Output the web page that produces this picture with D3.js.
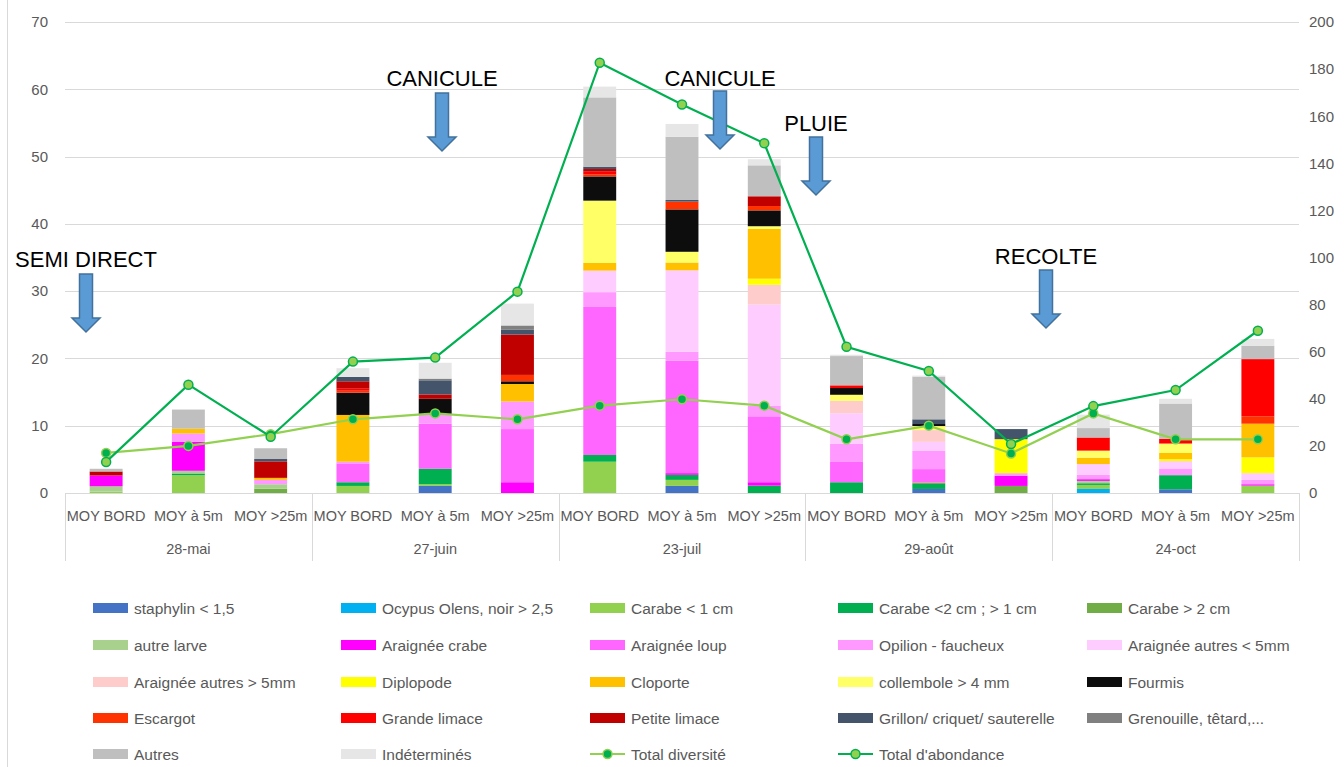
<!DOCTYPE html>
<html>
<head>
<meta charset="utf-8">
<script src="https://cdn.jsdelivr.net/npm/d3@7"></script>
<style>
  html, body { margin: 0; padding: 0; background: #fff; }
  svg { display: block; font-family: "Liberation Sans", Arial, sans-serif; }
</style>
</head>
<body>
<svg id="chart" width="1344" height="767"></svg>
<script>
// Sampling dates and trap positions
const dates = ["28-mai", "27-juin", "23-juil", "29-août", "24-oct"];
const positions = ["MOY BORD", "MOY à 5m", "MOY >25m"];
const categories = dates.flatMap(d => positions.map(p => d + "|" + p));

// Mean counts per taxon, one value per category (left axis)
const staphylin     = [0, 0, 0, 0, 1.05, 0, 0, 1.05, 0, 0, 0.6, 0, 0, 0.55, 0];
const ocypus        = [0, 0, 0, 0, 0, 0, 0, 0, 0, 0, 0, 0, 0.6, 0, 0];
const carabeS       = [0.2, 2.65, 0, 1.05, 0.25, 0, 4.65, 0.9, 0, 0, 0, 0, 0.6, 0, 1.1];
const carabeM       = [0, 0.25, 0, 0.55, 2.3, 0, 1.0, 0.75, 1.1, 1.6, 0.75, 0, 0.25, 2.1, 0];
const carabeL       = [0, 0, 0.65, 0, 0, 0, 0, 0, 0, 0, 0.2, 1.05, 0, 0, 0];
const autreLarve    = [0.8, 0.4, 0.65, 0, 0, 0, 0, 0, 0, 0, 0, 0, 0.35, 0, 0];
const araigneeCrabe = [1.6, 4.3, 0, 0, 0, 1.6, 0, 0.25, 0.5, 0, 0, 1.5, 0.25, 0, 0.2];
const araigneeLoup  = [0, 0, 0, 2.8, 6.7, 7.9, 22.0, 16.7, 9.8, 3.1, 2.0, 0, 0, 0, 0];
const opilion       = [0, 1.25, 0.65, 0.25, 1.4, 4.1, 2.2, 1.35, 1.6, 2.6, 2.7, 0.4, 0.65, 1.0, 0.65];
const araigneePetit = [0, 0, 0, 0, 0, 0, 3.2, 12.1, 15.0, 4.55, 1.35, 0, 1.6, 1.1, 1.0];
const araigneeGrand = [0, 0, 0, 0, 0, 0, 0, 0, 2.95, 1.85, 1.75, 0, 0, 0, 0];
const diplopode     = [0, 0, 0, 0, 0, 0, 0, 0, 0.9, 0, 0, 5.05, 0, 0.3, 2.35];
const cloporte      = [0, 0.7, 0.3, 6.95, 0, 2.6, 1.15, 1.15, 7.4, 0, 0, 0, 0.95, 0.9, 5.0];
const collembole    = [0, 0, 0, 0, 0, 0, 9.25, 1.6, 0.4, 0.9, 0.6, 0, 1.05, 1.4, 0];
const fourmis       = [0, 0, 0, 3.3, 2.3, 0.4, 3.6, 6.3, 2.35, 1.0, 0.3, 0, 0, 0, 0];
const escargot      = [0, 0, 0, 0.3, 0, 0.95, 0.3, 1.15, 0.65, 0, 0, 0, 0, 0, 1.1];
const grandeLimace  = [0, 0, 0, 0.3, 0, 0, 0.4, 0, 0, 0.4, 0, 0, 1.95, 0.7, 8.5];
const petiteLimace  = [0.6, 0, 2.45, 1.1, 0.65, 6.0, 0.4, 0, 1.45, 0, 0, 0, 0, 0, 0];
const grillon       = [0, 0, 0.35, 0.65, 2.1, 0.7, 0.35, 0.25, 0, 0, 0.7, 1.5, 0, 0, 0];
const grenouille    = [0, 0, 0, 0, 0.25, 0.65, 0, 0, 0, 0, 0, 0, 0, 0, 0];
const autres        = [0.4, 2.85, 1.6, 0, 0, 0, 10.3, 9.4, 4.6, 4.35, 6.35, 0, 1.4, 5.25, 2.0];
const indetermines  = [0, 0, 0, 1.3, 2.35, 3.25, 1.6, 1.9, 0.9, 0.2, 0.15, 0, 2.0, 0.7, 1.0];

// Totals (right axis)
const totalDiversite = [17, 20, 25, 31.3, 33.8, 31.3, 37.1, 39.8, 37.1, 22.8, 28.6, 16.8, 33.8, 22.8, 22.8];
const totalAbondance = [13.2, 46, 23.9, 55.8, 57.5, 85.5, 182.7, 165, 148.5, 62.1, 51.8, 20.8, 36.9, 43.7, 68.9];

const leftTicks = [0, 10, 20, 30, 40, 50, 60, 70];
const rightTicks = [0, 20, 40, 60, 80, 100, 120, 140, 160, 180, 200];

const series = [
  { name: "staphylin < 1,5", color: "#4472C4", values: staphylin },
  { name: "Ocypus Olens, noir > 2,5", color: "#00B0F0", values: ocypus },
  { name: "Carabe < 1 cm", color: "#92D050", values: carabeS },
  { name: "Carabe <2 cm ; > 1 cm", color: "#00B050", values: carabeM },
  { name: "Carabe > 2 cm", color: "#70AD47", values: carabeL },
  { name: "autre larve", color: "#A9D18E", values: autreLarve },
  { name: "Araignée crabe", color: "#FF00FF", values: araigneeCrabe },
  { name: "Araignée loup", color: "#FF66FF", values: araigneeLoup },
  { name: "Opilion - faucheux", color: "#FF99FF", values: opilion },
  { name: "Araignée autres < 5mm", color: "#FFCCFF", values: araigneePetit },
  { name: "Araignée autres > 5mm", color: "#FFCCCC", values: araigneeGrand },
  { name: "Diplopode", color: "#FFFF00", values: diplopode },
  { name: "Cloporte", color: "#FFC000", values: cloporte },
  { name: "collembole > 4 mm", color: "#FFFF66", values: collembole },
  { name: "Fourmis", color: "#0D0D0D", values: fourmis },
  { name: "Escargot", color: "#FF3300", values: escargot },
  { name: "Grande limace", color: "#FF0000", values: grandeLimace },
  { name: "Petite limace", color: "#C00000", values: petiteLimace },
  { name: "Grillon/ criquet/ sauterelle", color: "#44546A", values: grillon },
  { name: "Grenouille, têtard,...", color: "#808080", values: grenouille },
  { name: "Autres", color: "#BFBFBF", values: autres },
  { name: "Indéterminés", color: "#E6E6E6", values: indetermines }
];

const lines = [
  { name: "Total diversité", stroke: "#92D050", fill: "#00B050", values: totalDiversite },
  { name: "Total d'abondance", stroke: "#00B050", fill: "#92D050", values: totalAbondance }
];

const events = [
  { label: "SEMI DIRECT", x: 86, textY: 267, top: 274 },
  { label: "CANICULE", x: 442, textY: 86, top: 93 },
  { label: "CANICULE", x: 720, textY: 86, top: 91 },
  { label: "PLUIE", x: 816, textY: 131, top: 137 },
  { label: "RECOLTE", x: 1046, textY: 264, top: 270 }
];

const svg = d3.select("#chart");
const plot = { left: 65, right: 1299, top: 22, bottom: 493 };

const x = d3.scaleBand().domain(categories).range([plot.left, plot.right]).paddingInner(0.6).paddingOuter(0.3);
const xOuter = d3.scaleBand().domain(categories).range([plot.left, plot.right]);
const y = d3.scaleLinear().domain([0, 70]).range([plot.bottom, plot.top]);
const y2 = d3.scaleLinear().domain([0, 200]).range([plot.bottom, plot.top]);

// chart frame edge
svg.append("line").attr("x1", 7.5).attr("x2", 7.5).attr("y1", 0).attr("y2", 767)
  .attr("stroke", "#D9D9D9").attr("stroke-width", 1);

// gridlines
svg.append("g").selectAll("line").data(leftTicks.slice(1)).join("line")
  .attr("x1", plot.left).attr("x2", plot.right)
  .attr("y1", d => Math.round(y(d)) + 0.5).attr("y2", d => Math.round(y(d)) + 0.5)
  .attr("stroke", "#D9D9D9").attr("stroke-width", 1);

// left axis labels
const leftAxis = d3.axisLeft(y).tickValues(leftTicks).tickSize(0).tickPadding(17);
svg.append("g").attr("transform", `translate(${plot.left},0)`).call(leftAxis)
  .call(g => g.select(".domain").remove())
  .call(g => g.selectAll("text").attr("fill", "#595959").style("font-size", "15px").style("font-family", "Liberation Sans, Arial, sans-serif"));

// right axis labels
const rightAxis = d3.axisRight(y2).tickValues(rightTicks).tickSize(0).tickPadding(10);
svg.append("g").attr("transform", `translate(${plot.right},0)`).call(rightAxis)
  .call(g => g.select(".domain").remove())
  .call(g => g.selectAll("text").attr("fill", "#595959").style("font-size", "15px").style("font-family", "Liberation Sans, Arial, sans-serif"));

// stacked bars
const rows = categories.map((c, i) => {
  const r = { cat: c };
  series.forEach(s => { r[s.name] = s.values[i]; });
  return r;
});
const stack = d3.stack().keys(series.map(s => s.name));
const stacked = stack(rows);

svg.append("g").selectAll("g").data(stacked).join("g")
  .attr("fill", (d, i) => series[i].color)
  .selectAll("rect").data(d => d.filter(p => p[1] - p[0] > 0)).join("rect")
  .attr("x", d => x(d.data.cat))
  .attr("width", x.bandwidth())
  .attr("y", d => y(d[1]))
  .attr("height", d => y(d[0]) - y(d[1]));

// category axis line and group separators
svg.append("line").attr("x1", plot.left).attr("x2", plot.right)
  .attr("y1", plot.bottom + 0.5).attr("y2", plot.bottom + 0.5)
  .attr("stroke", "#D9D9D9");

const sepX = dates.map((d, i) => xOuter(d + "|" + positions[0])).concat([plot.right]);
svg.append("g").selectAll("line").data(sepX).join("line")
  .attr("x1", d => Math.round(d) + 0.5).attr("x2", d => Math.round(d) + 0.5)
  .attr("y1", plot.bottom).attr("y2", 561)
  .attr("stroke", "#D9D9D9");

svg.append("g").selectAll("text").data(categories).join("text")
  .attr("x", d => xOuter(d) + xOuter.bandwidth() / 2)
  .attr("y", 521)
  .attr("text-anchor", "middle")
  .attr("fill", "#595959")
  .style("font-size", "14.5px")
  .text(d => d.split("|")[1]);

svg.append("g").selectAll("text").data(dates).join("text")
  .attr("x", d => xOuter(d + "|" + positions[1]) + xOuter.bandwidth() / 2)
  .attr("y", 554)
  .attr("text-anchor", "middle")
  .attr("fill", "#595959")
  .style("font-size", "14.5px")
  .text(d => d);

// total lines
lines.forEach(l => {
  const pts = l.values.map((v, i) => [xOuter(categories[i]) + xOuter.bandwidth() / 2, y2(v)]);
  svg.append("path").datum(pts)
    .attr("d", d3.line())
    .attr("fill", "none").attr("stroke", l.stroke).attr("stroke-width", 2.2);
  svg.append("g").selectAll("circle").data(pts).join("circle")
    .attr("cx", d => d[0]).attr("cy", d => d[1]).attr("r", 4.5)
    .attr("fill", l.fill).attr("stroke", l.stroke).attr("stroke-width", 1.5);
});

// event annotations with down arrows
const arrowPath = (cx, top) => {
  const sw = 6.5, hw = 14, shaft = 44, head = 14;
  return `M${cx - sw},${top} L${cx + sw},${top} L${cx + sw},${top + shaft} L${cx + hw},${top + shaft} ` +
         `L${cx},${top + shaft + head} L${cx - hw},${top + shaft} L${cx - sw},${top + shaft} Z`;
};
const ev = svg.append("g");
events.forEach(e => {
  ev.append("text").attr("x", e.x).attr("y", e.textY).attr("text-anchor", "middle")
    .attr("fill", "#000").style("font-size", "22px").text(e.label);
  ev.append("path").attr("d", arrowPath(e.x, e.top))
    .attr("fill", "#5B9BD5").attr("stroke", "#41719C").attr("stroke-width", 1.5);
});

// legend
const legendItems = series.map(s => ({ name: s.name, type: "rect", color: s.color }))
  .concat(lines.map(l => ({ name: l.name, type: "line", stroke: l.stroke, fill: l.fill })));
const colX = [93, 341, 590, 838, 1087];
const rowY = [608, 645, 682, 718, 754];
const lg = svg.append("g").selectAll("g").data(legendItems).join("g")
  .attr("transform", (d, i) => `translate(${colX[i % 5]},${rowY[Math.floor(i / 5)]})`);
lg.filter(d => d.type === "rect").append("rect")
  .attr("x", 0).attr("y", -5).attr("width", 35).attr("height", 10).attr("fill", d => d.color);
lg.filter(d => d.type === "line").append("line")
  .attr("x1", 0).attr("x2", 35).attr("y1", 0).attr("y2", 0)
  .attr("stroke", d => d.stroke).attr("stroke-width", 2);
lg.filter(d => d.type === "line").append("circle")
  .attr("cx", 17.5).attr("cy", 0).attr("r", 4.5)
  .attr("fill", d => d.fill).attr("stroke", d => d.stroke).attr("stroke-width", 1.5);
lg.append("text").attr("x", 41).attr("y", 5.5)
  .attr("fill", "#595959").style("font-size", "15.5px").text(d => d.name);
</script>
</body>
</html>
